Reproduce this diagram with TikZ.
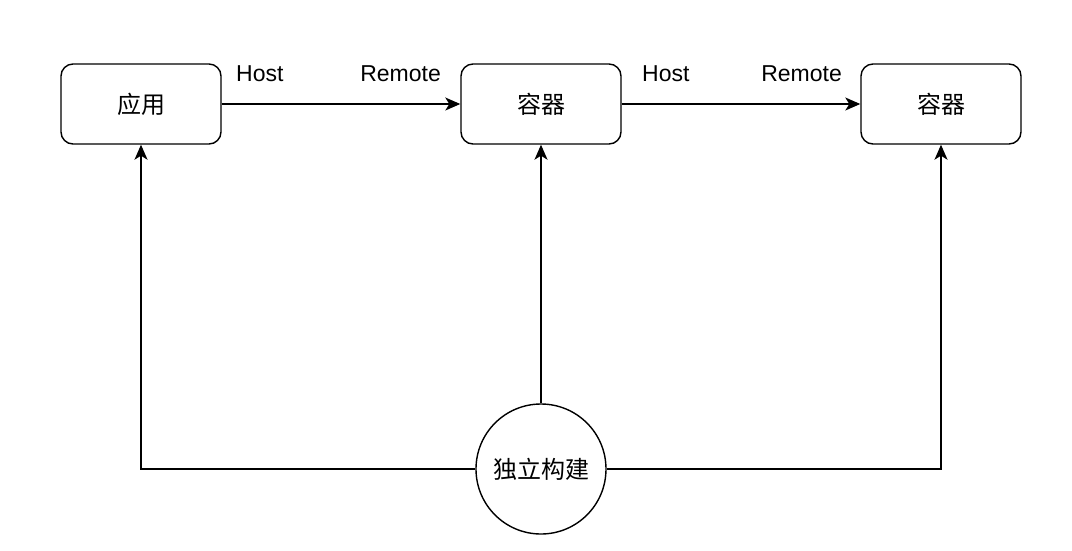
\documentclass[tikz,border=0pt]{standalone}
\usepackage{fontspec}
\setmainfont{Liberation Sans}
\newfontfamily\cjk{Noto Sans CJK SC}
\usetikzlibrary{arrows.meta}
\tikzset{
box/.style={draw,line width=1.4pt,rounded corners=12pt,minimum width=160pt,minimum height=80pt,inner sep=0pt,font=\cjk\fontsize{24}{28}\selectfont},
buildcircle/.style={draw,line width=1.4pt,circle,minimum size=130pt,inner sep=0pt,font=\cjk\fontsize{24}{28}\selectfont},
portlabel/.style={inner sep=0pt,font=\fontsize{23}{27}\selectfont},
link/.style={line width=1.4pt,->}
}
\begin{document}
\begin{tikzpicture}[x=1pt,y=-1pt,>={Stealth[length=15pt,width=13pt,inset=4pt]}]
\useasboundingbox [fill=white] (0,0) rectangle (1072,550);
\node [box] (app) at (141,104) {应用};
\node [box] (ctrA) at (541,104) {容器};
\node [box] (ctrB) at (941,104) {容器};
\node [buildcircle] (build) at (541,469) {独立构建};
%
\node [portlabel,anchor=base west] (hostA) at (236,81) {Host};
\node [portlabel,anchor=base east] (remoteA) at (441,81) {Remote};
\node [portlabel,anchor=base west] (hostB) at (642,81) {Host};
\node [portlabel,anchor=base east] (remoteB) at (842,81) {Remote};
%
\draw [link] (app) -- (ctrA);
\draw [link] (ctrA) -- (ctrB);
\draw [link] (build) -- (ctrA);
\draw [link] (build.west) -| (app.south);
\draw [link] (build.east) -| (ctrB.south);
\end{tikzpicture}
\end{document}
